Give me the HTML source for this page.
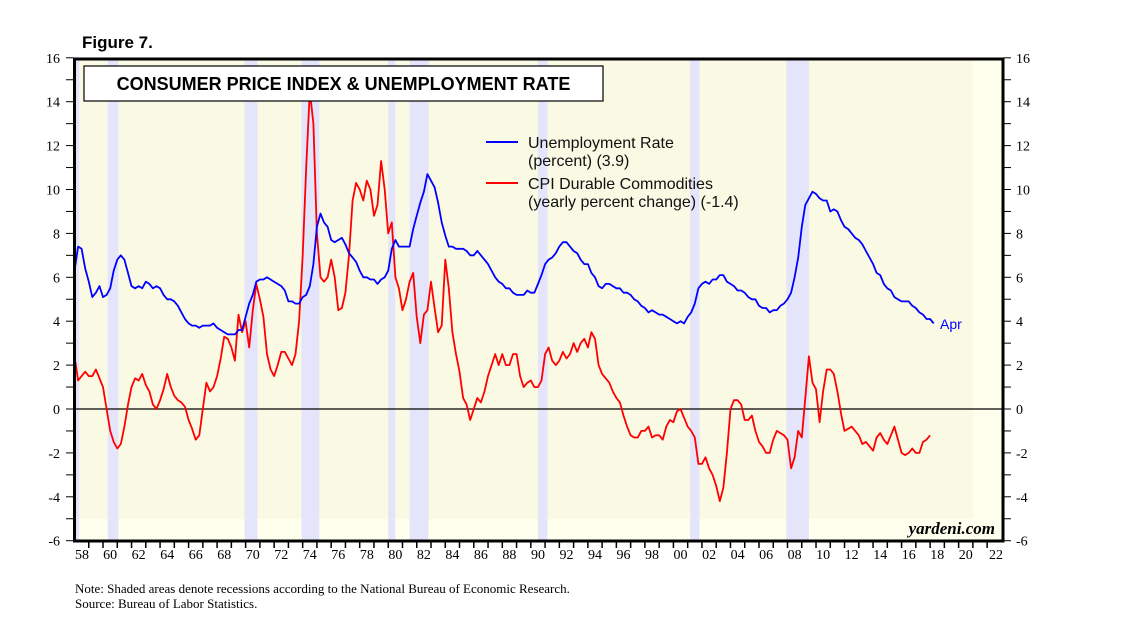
<!DOCTYPE html>
<html><head><meta charset="utf-8"><style>
body{margin:0;background:#fff;width:1138px;height:627px;overflow:hidden}
svg text{font-family:"Liberation Serif",serif}
</style></head><body>
<svg id="c" width="1138" height="627" xmlns="http://www.w3.org/2000/svg">
<text x="82" y="48" font-size="17" font-weight="bold" style="font-family:'Liberation Sans',sans-serif">Figure 7.</text>
<g id="plot"></g>
<text x="75" y="593" font-size="13">Note: Shaded areas denote recessions according to the National Bureau of Economic Research.</text>
<text x="75" y="608" font-size="13">Source: Bureau of Labor Statistics.</text>
</svg>
<script>
const recessions=[[1957.67,1958.33],[1960.33,1961.08],[1969.92,1970.83],[1973.92,1975.17],[1980.0,1980.5],[1981.5,1982.83],[1990.5,1991.17],[2001.17,2001.83],[2007.92,2009.5]];
const yTicks=[16,14,12,10,8,6,4,2,0,-2,-4,-6];
const xLabels=['58','60','62','64','66','68','70','72','74','76','78','80','82','84','86','88','90','92','94','96','98','00','02','04','06','08','10','12','14','16','18','20','22'];
const unemp=[6.3,7.4,7.3,6.4,5.8,5.1,5.3,5.6,5.1,5.2,5.5,6.3,6.8,7.0,6.8,6.2,5.6,5.5,5.6,5.5,5.8,5.7,5.5,5.6,5.5,5.2,5.0,5.0,4.9,4.7,4.4,4.1,3.9,3.8,3.8,3.7,3.8,3.8,3.8,3.9,3.7,3.6,3.5,3.4,3.4,3.4,3.6,3.6,4.2,4.8,5.2,5.8,5.9,5.9,6.0,5.9,5.8,5.7,5.6,5.4,4.9,4.9,4.8,4.8,5.1,5.2,5.6,6.6,8.3,8.9,8.5,8.3,7.7,7.6,7.7,7.8,7.5,7.1,6.9,6.7,6.3,6.0,6.0,5.9,5.9,5.7,5.9,6.0,6.3,7.3,7.7,7.4,7.4,7.4,7.4,8.2,8.8,9.4,9.9,10.7,10.4,10.1,9.4,8.5,7.9,7.4,7.4,7.3,7.3,7.3,7.2,7.0,7.0,7.2,7.0,6.8,6.6,6.3,6.0,5.8,5.7,5.5,5.5,5.3,5.2,5.2,5.2,5.4,5.3,5.3,5.7,6.1,6.6,6.8,6.9,7.1,7.4,7.6,7.6,7.4,7.2,7.1,6.8,6.6,6.6,6.2,6.0,5.6,5.5,5.7,5.7,5.6,5.5,5.5,5.3,5.3,5.2,5.0,4.9,4.7,4.6,4.4,4.5,4.4,4.3,4.3,4.2,4.1,4.0,3.9,4.0,3.9,4.2,4.4,4.8,5.5,5.7,5.8,5.7,5.9,5.9,6.1,6.1,5.8,5.7,5.6,5.4,5.4,5.3,5.1,5.0,5.0,4.7,4.6,4.6,4.4,4.5,4.5,4.7,4.8,5.0,5.3,6.0,6.9,8.3,9.3,9.6,9.9,9.8,9.6,9.5,9.5,9.0,9.1,9.0,8.6,8.3,8.2,8.0,7.8,7.7,7.5,7.2,6.9,6.6,6.2,6.1,5.7,5.5,5.4,5.1,5.0,4.9,4.9,4.9,4.7,4.6,4.4,4.3,4.1,4.1,3.9];
const cpiDur=[2.4,1.3,1.5,1.7,1.5,1.5,1.8,1.4,1.0,0.0,-1.0,-1.5,-1.8,-1.6,-0.8,0.2,1.0,1.4,1.3,1.6,1.1,0.8,0.2,0.0,0.4,0.9,1.6,1.0,0.6,0.4,0.3,0.1,-0.5,-0.9,-1.4,-1.2,0.0,1.2,0.8,1.0,1.5,2.3,3.3,3.2,2.8,2.2,4.3,3.5,4.0,2.8,4.5,5.7,5.0,4.2,2.5,1.8,1.5,2.0,2.6,2.6,2.3,2.0,2.5,4.0,7.0,11.0,14.5,13.0,8.0,6.0,5.8,6.0,6.8,6.0,4.5,4.6,5.3,7.0,9.5,10.3,10.0,9.5,10.4,10.0,8.8,9.3,11.3,10.0,8.0,8.5,6.0,5.5,4.5,5.0,5.8,6.2,4.2,3.0,4.3,4.5,5.8,4.6,3.5,3.8,6.8,5.5,3.5,2.5,1.7,0.5,0.2,-0.5,0.0,0.5,0.3,0.8,1.5,2.0,2.5,2.0,2.5,2.0,2.0,2.5,2.5,1.5,1.0,1.2,1.3,1.0,1.0,1.3,2.5,2.8,2.2,2.0,2.2,2.6,2.3,2.5,3.0,2.6,3.0,3.2,2.8,3.5,3.2,2.0,1.6,1.4,1.2,0.8,0.5,0.3,-0.3,-0.8,-1.2,-1.3,-1.3,-1.0,-1.0,-0.8,-1.3,-1.2,-1.2,-1.4,-0.8,-0.5,-0.6,-0.1,0.0,-0.4,-0.8,-1.0,-1.3,-2.5,-2.5,-2.2,-2.7,-3.0,-3.5,-4.2,-3.6,-2.0,0.0,0.4,0.4,0.2,-0.5,-0.5,-0.3,-1.0,-1.5,-1.7,-2.0,-2.0,-1.4,-1.0,-1.1,-1.2,-1.4,-2.7,-2.2,-1.0,-1.3,0.5,2.4,1.2,0.9,-0.6,0.8,1.8,1.8,1.6,0.8,-0.2,-1.0,-0.9,-0.8,-1.0,-1.2,-1.6,-1.5,-1.7,-1.9,-1.3,-1.1,-1.4,-1.6,-1.2,-0.8,-1.4,-2.0,-2.1,-2.0,-1.8,-2.0,-2.0,-1.5,-1.4,-1.2];
const startYear=1958.0, step=0.25;
const X=t=>74.5+(t-1958)*14.26;
const Y=v=>409-v*21.95;
const NS='http://www.w3.org/2000/svg';
const g=document.getElementById('plot');
function mk(tag,attrs,parent){const e=document.createElementNS(NS,tag);for(const k in attrs)e.setAttribute(k,attrs[k]);(parent||g).appendChild(e);return e;}
let e=mk('rect',{x:74.5,y:59,width:928.5,height:482,fill:'#FFFFEE'});


e=mk('rect',{x:74.5,y:59,width:X(2021)-74.5,height:Y(-5)-59,fill:'#FAF9E4'});


recessions.forEach(r=>{const x0=Math.max(X(r[0]),74.5);const el=mk('rect',{x:x0,y:59,width:X(r[1])-x0,height:482,fill:'#E4E4FA'});

});
e=mk('line',{x1:74.5,x2:1003,y1:Y(0),y2:Y(0),stroke:'#000','stroke-width':1.2});


function series(arr,color,name){const pts=arr.map((v,i)=>X(startYear+i*step).toFixed(1)+','+Y(v).toFixed(1)).join(' ');
const p=mk('polyline',{points:pts,fill:'none',stroke:color,'stroke-width':1.8,'stroke-linejoin':'round'});

}
series(cpiDur,'#FF0000','cpi-durables-line');
series(unemp,'#0000FF','unemployment-line');
e=mk('rect',{x:74.5,y:59,width:928.5,height:482,fill:'none',stroke:'#000','stroke-width':3});


for(let v=-6;v<=16;v++){const y=Y(v);mk('line',{x1:66,x2:73,y1:y,y2:y,stroke:'#000','stroke-width':1});mk('line',{x1:1004,x2:1011,y1:y,y2:y,stroke:'#000','stroke-width':1});}
yTicks.forEach(v=>{const y=Y(v)+5;
const l=mk('text',{x:60,y:y,'text-anchor':'end','font-size':14});l.textContent=v;


const r=mk('text',{x:1016,y:y,'font-size':14});r.textContent=v;

});
for(let yr=1959;yr<=2022;yr++){mk('line',{x1:X(yr),x2:X(yr),y1:541,y2:548,stroke:'#000','stroke-width':1.5});}
xLabels.forEach((s,i)=>{let yr=1958+2*i;let x=X(yr+0.5);if(i==0)x=82;if(i==xLabels.length-1)x=996;
const t=mk('text',{x:x,y:559,'text-anchor':'middle','font-size':14});t.textContent=s;

});
e=mk('rect',{x:84,y:66,width:519,height:35,fill:'#fff',stroke:'#000','stroke-width':1.2});


e=mk('text',{x:343.5,y:90,'text-anchor':'middle','font-size':18,'font-weight':'bold',style:"font-family:'Liberation Sans',sans-serif"});e.textContent='CONSUMER PRICE INDEX & UNEMPLOYMENT RATE';


function legend(y,color,l1,l2,name){const ln=mk('line',{x1:486,x2:518,y1:y,y2:y,stroke:color,'stroke-width':2});


const a=mk('text',{x:528,y:y+6,'font-size':16,style:"font-family:'Liberation Sans',sans-serif",fill:'#111'});a.textContent=l1;


const b=mk('text',{x:528,y:y+24,'font-size':16,style:"font-family:'Liberation Sans',sans-serif",fill:'#111'});b.textContent=l2;

}
legend(142,'#0000FF','Unemployment Rate','(percent) (3.9)','legend-unemployment');
legend(183,'#FF0000','CPI Durable Commodities','(yearly percent change) (-1.4)','legend-cpi-durables');
e=mk('text',{x:940,y:329,'font-size':14,fill:'#0000FF',style:"font-family:'Liberation Sans',sans-serif"});e.textContent='Apr';


e=mk('text',{x:995,y:534,'text-anchor':'end','font-size':17,'font-style':'italic','font-weight':'bold'});e.textContent='yardeni.com';


</script>
</body></html>
